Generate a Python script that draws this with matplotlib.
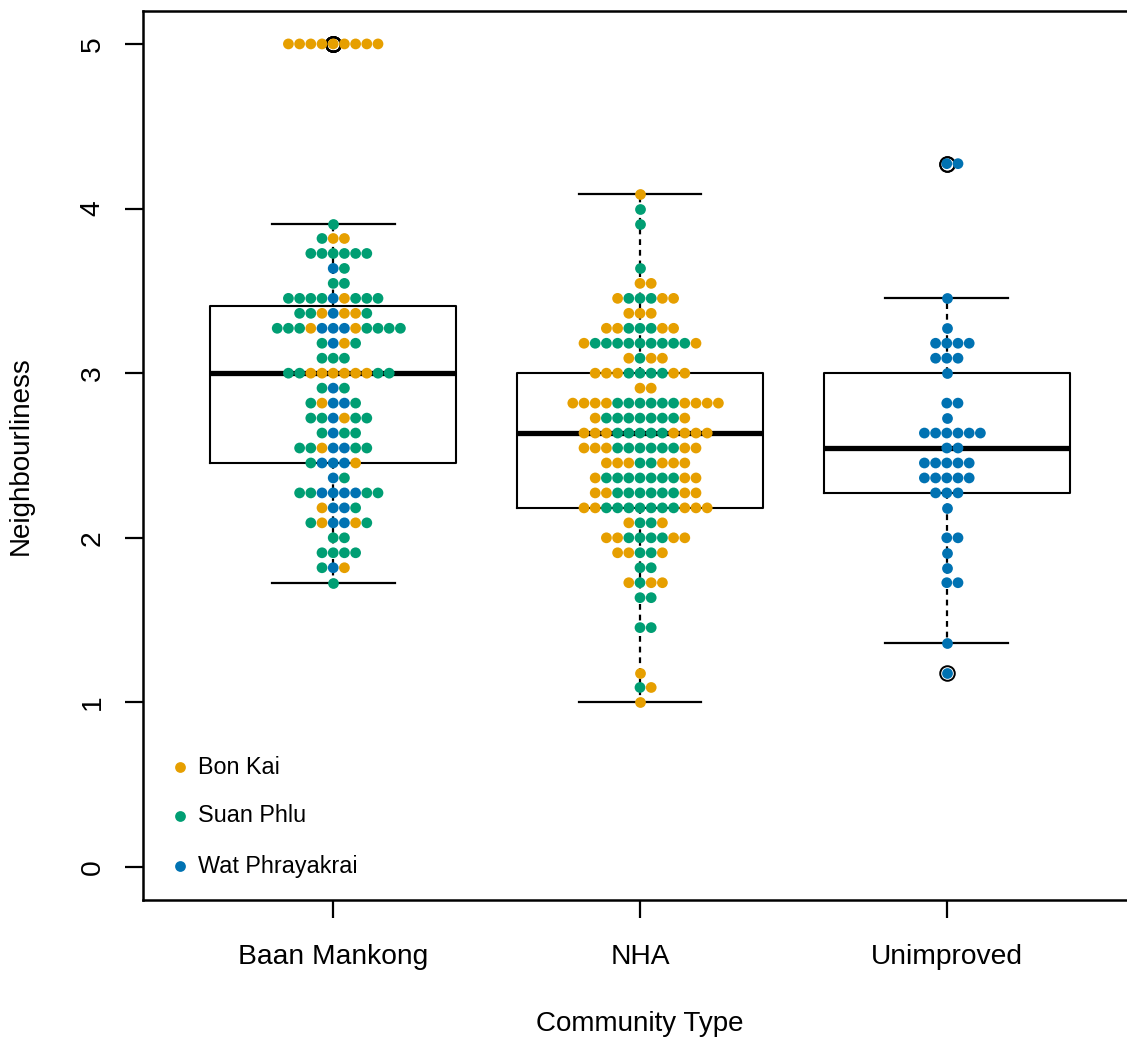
import matplotlib
matplotlib.use('Agg')
import matplotlib.pyplot as plt
import numpy as np

plt.rcParams['font.family'] = ['Liberation Sans', 'DejaVu Sans']

GROUPS = ['Baan Mankong', 'NHA', 'Unimproved']
SITES = ['Bon Kai', 'Suan Phlu', 'Wat Phrayakrai']
SITE_KEYS = ['O', 'G', 'B']
SITE_COLORS = {'O': '#E69F00', 'G': '#009E73', 'B': '#0072B2'}

# scores are means of 11 items -> value = level / 11
# each row string lists the site of every dot at that level, left to right
BM_LEVEL = [55, 43, 42, 41, 40, 39, 38, 37, 36, 35, 34, 33, 32,
            31, 30, 29, 28, 27, 26, 25, 24, 23, 22, 21, 20, 19]
BM_ROWS = ['OOOOOOOOO', 'G', 'GOO', 'GGGGGG', 'BG', 'GG', 'GGGGBOGGG',
           'GGOBOOG', 'GGGOBBBOGGGG', 'GBOG', 'GGG', 'GGOOOOOOGG', 'GBG',
           'GOBBG', 'GGBOGG', 'GBGG', 'GGOBBGG', 'GBBBO', 'BG', 'GGBBBBGG',
           'OBBG', 'GOBBOG', 'GG', 'GGGG', 'GBO', 'G']

NHA_LEVEL = [45, 44, 43, 40, 39, 38, 37, 36, 35, 34, 33, 32, 31, 30, 29,
             28, 27, 26, 25, 24, 23, 22, 21, 20, 19, 18, 16, 13, 12, 11]
NHA_ROWS = ['O', 'G', 'G', 'G', 'OO', 'OGGGOO', 'OOO', 'OOGGGOO',
            'OGGGGGGGGGO', 'OGOO', 'OOOGGGGOO', 'OO', 'OOOOGGGGGGOOOO',
            'OGGGGGGGO', 'OOOGGGGGOOOO', 'OOOGGGGGGOO', 'OOOGGOOO',
            'OGGGGGGGOO', 'OOGGGGGGOO', 'OOGGGGGGGOOO', 'OGGO', 'OOGGGGOO',
            'OOGGO', 'GG', 'OGOO', 'GG', 'GG', 'O', 'GO', 'O']

UN_LEVEL = [47, 38, 36, 35, 34, 33, 31, 30, 29, 28, 27, 26, 25, 24,
            22, 21, 20, 19, 15, 13]
UN_ROWS = ['BB', 'B', 'B', 'BBBB', 'BBB', 'B', 'BB', 'B', 'BBBBBB', 'BB',
           'BBBBB', 'BBBBB', 'BBB', 'B', 'BB', 'B', 'B', 'BB', 'B', 'B']

Y_TICKS = [0, 1, 2, 3, 4, 5]

DX = 0.0365  # horizontal dot spacing (data units)


def fivenum(v):
    x = np.sort(v)
    n = len(x)
    n4 = np.floor((n + 3) / 2) / 2
    d = np.array([1, n4, (n + 1) / 2, n + 1 - n4, n]) - 1
    return 0.5 * (x[np.floor(d).astype(int)] + x[np.ceil(d).astype(int)])


def box_stats(v):
    v = np.asarray(v)
    _, q1, med, q3, _ = fivenum(v)
    iqr = q3 - q1
    lo, hi = q1 - 1.5 * iqr, q3 + 1.5 * iqr
    out = (v < lo + 1e-9) | (v > hi)
    inside = v[~out]
    return dict(med=med, q1=q1, q3=q3, whislo=inside.min(),
                whishi=inside.max(), fliers=v[out])


fig = plt.figure(figsize=(11.27, 10.37), dpi=100)
ax = fig.add_axes([143 / 1127, 137 / 1037, 994 / 1127, 889 / 1037])

groups_data = [(BM_LEVEL, BM_ROWS), (NHA_LEVEL, NHA_ROWS), (UN_LEVEL, UN_ROWS)]

stats = []
for levels, rows in groups_data:
    vals = np.concatenate([[lv / 11] * len(r) for lv, r in zip(levels, rows)])
    stats.append(box_stats(vals))

ax.bxp(stats, positions=[1, 2, 3], widths=0.8, capwidths=0.4,
       boxprops=dict(color='black', lw=1.5),
       whiskerprops=dict(color='black', lw=1.6, linestyle=(0, (2.6, 2.2))),
       capprops=dict(color='black', lw=1.6),
       medianprops=dict(color='black', lw=3.8, solid_capstyle='butt'),
       flierprops=dict(marker='o', markersize=10.5, markerfacecolor='none',
                       markeredgecolor='black', markeredgewidth=1.4),
       manage_ticks=False)

for pos, (levels, rows) in enumerate(groups_data, start=1):
    for lv, r in zip(levels, rows):
        n = len(r)
        offs = (np.arange(n) - (n - 1) // 2) * DX
        ax.scatter(pos + offs, np.full(n, lv / 11),
                   c=[SITE_COLORS[ch] for ch in r], s=60, linewidths=0,
                   zorder=3)

ax.set_xlim(0.38, 3.62)
ax.set_ylim(-0.2, 5.2)
ax.set_xticks([1, 2, 3])
ax.set_xticklabels(GROUPS)
ax.set_yticks(Y_TICKS)
ax.set_yticklabels([str(t) for t in Y_TICKS])
ax.tick_params(axis='both', length=13, width=1.6, labelsize=20.3, direction='out')
ax.tick_params(axis='x', pad=19)
ax.tick_params(axis='y', pad=14, labelrotation=90)
for lab in ax.get_yticklabels():
    lab.set_verticalalignment('center')
for sp in ax.spines.values():
    sp.set_linewidth(1.8)

ax.set_xlabel('Community Type', fontsize=20, labelpad=29)
ax.set_ylabel('Neighbourliness', fontsize=20, labelpad=33)

# legend
leg_y = [0.1496, 0.0945, 0.0382]
for key, name, yy in zip(SITE_KEYS, SITES, leg_y):
    ax.scatter([0.0372], [yy], s=60, c=SITE_COLORS[key], linewidths=0,
               transform=ax.transAxes, zorder=3)
    ax.text(0.0553, yy, name, transform=ax.transAxes, fontsize=16.8,
            va='center', ha='left')

fig.savefig('out.png', dpi=100, facecolor='white')
